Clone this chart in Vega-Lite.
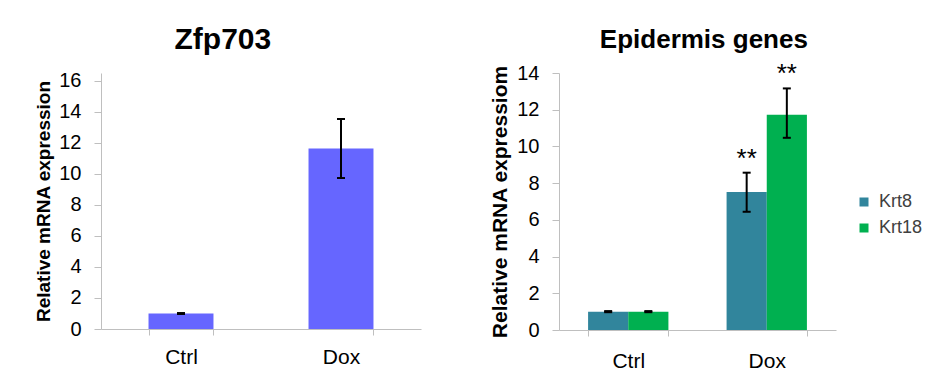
{
  "$schema": "https://vega.github.io/schema/vega-lite/v6.json",
  "padding": {"left": 34, "top": 24, "right": 0, "bottom": 0},
  "spacing": 68,
  "config": {
    "font": "Liberation Sans",
    "view": {"stroke": null},
    "axis": {"domainColor": "#BFBFBF", "tickColor": "#BFBFBF", "grid": false, "labelColor": "#000000", "titleColor": "#000000", "labelFontSize": 20, "domainWidth": 1, "tickWidth": 1, "labelFont": "Liberation Sans", "titleFont": "Liberation Sans", "labelOverlap": false},
    "title": {"fontWeight": "bold", "color": "#000000", "anchor": "middle", "frame": "bounds", "font": "Liberation Sans"}
  },
  "datasets": {
    "zfp": [
      {"cond": "Ctrl", "value": 1.0, "lo": 0.97, "hi": 1.03},
      {"cond": "Dox", "value": 11.65, "lo": 9.74, "hi": 13.55}
    ],
    "epi": [
      {"cond": "Ctrl", "gene": "Krt8", "value": 1.0, "lo": 0.97, "hi": 1.03, "sig": ""},
      {"cond": "Ctrl", "gene": "Krt18", "value": 1.0, "lo": 0.97, "hi": 1.03, "sig": ""},
      {"cond": "Dox", "gene": "Krt8", "value": 7.52, "lo": 6.44, "hi": 8.57, "sig": "**"},
      {"cond": "Dox", "gene": "Krt18", "value": 11.73, "lo": 10.47, "hi": 13.16, "sig": "**"}
    ]
  },
  "hconcat": [
    {
      "width": 320,
      "height": 256,
      "title": {"text": "Zfp703", "fontSize": 30, "offset": 16, "dx": -5},
      "data": {"name": "zfp"},
      "encoding": {
        "x": {"field": "cond", "type": "nominal", "sort": ["Ctrl", "Dox"],
          "scale": {"paddingInner": 0.594, "paddingOuter": 0.297},
          "axis": {"title": null, "labelAngle": 0, "labelFontSize": 21, "tickBand": "extent", "tickSize": 6, "labelPadding": 11}}
      },
      "layer": [
        {
          "mark": {"type": "bar", "color": "#6666FF"},
          "encoding": {
            "y": {"field": "value", "type": "quantitative", "title": "Relative mRNA expression",
              "scale": {"domain": [0, 16.516], "nice": false},
              "axis": {"titleFontSize": 19, "titleFontWeight": "bold", "values": [0, 2, 4, 6, 8, 10, 12, 14, 16], "tickSize": 7, "labelPadding": 13, "titlePadding": 5}}
          }
        },
        {
          "mark": {"type": "rule", "color": "#000000", "strokeWidth": 2},
          "encoding": {
            "y": {"field": "lo", "type": "quantitative", "title": "Relative mRNA expression",
              "axis": {"titleFontSize": 19, "titleFontWeight": "bold", "values": [0, 2, 4, 6, 8, 10, 12, 14, 16], "tickSize": 7, "labelPadding": 13, "titlePadding": 5}},
            "y2": {"field": "hi"}
          }
        },
        {
          "mark": {"type": "tick", "color": "#000000", "thickness": 2, "size": 8, "opacity": 1},
          "encoding": {"y": {"field": "lo", "type": "quantitative", "title": "Relative mRNA expression",
              "axis": {"titleFontSize": 19, "titleFontWeight": "bold", "values": [0, 2, 4, 6, 8, 10, 12, 14, 16], "tickSize": 7, "labelPadding": 13, "titlePadding": 5}}}
        },
        {
          "mark": {"type": "tick", "color": "#000000", "thickness": 2, "size": 8, "opacity": 1},
          "encoding": {"y": {"field": "hi", "type": "quantitative", "title": "Relative mRNA expression",
              "axis": {"titleFontSize": 19, "titleFontWeight": "bold", "values": [0, 2, 4, 6, 8, 10, 12, 14, 16], "tickSize": 7, "labelPadding": 13, "titlePadding": 5}}}
        }
      ]
    },
    {
      "width": 277,
      "height": 257,
      "title": {"text": "Epidermis genes", "fontSize": 26, "offset": 8, "dx": 41},
      "data": {"name": "epi"},
      "encoding": {
        "x": {"field": "cond", "type": "nominal", "sort": ["Ctrl", "Dox"],
          "scale": {"paddingInner": 0.42, "paddingOuter": 0.21},
          "axis": {"title": null, "labelAngle": 0, "labelFontSize": 21, "tickBand": "extent", "tickSize": 6, "labelPadding": 14}},
        "xOffset": {"field": "gene", "type": "nominal", "sort": ["Krt8", "Krt18"], "scale": {"paddingInner": 0, "paddingOuter": 0}}
      },
      "layer": [
        {
          "mark": {"type": "bar"},
          "encoding": {
            "y": {"field": "value", "type": "quantitative", "title": "Relative mRNA expressiom",
              "scale": {"domain": [0, 14], "nice": false},
              "axis": {"titleFontSize": 21, "titleFontWeight": "bold", "values": [0, 2, 4, 6, 8, 10, 12, 14], "tickSize": 7, "labelPadding": 13, "titlePadding": 6}},
            "color": {"field": "gene", "type": "nominal", "sort": ["Krt8", "Krt18"],
              "scale": {"domain": ["Krt8", "Krt18"], "range": ["#31859C", "#00B050"]},
              "legend": {"title": null, "orient": "none", "legendX": 754, "legendY": 120, "symbolType": "square", "symbolSize": 81, "symbolStrokeWidth": 0, "symbolOpacity": 1, "labelFontSize": 18, "labelColor": "#404040", "rowPadding": 8, "labelOffset": 6, "padding": 0, "labelFont": "Liberation Sans"}}
          }
        },
        {
          "mark": {"type": "rule", "color": "#000000", "strokeWidth": 2},
          "encoding": {
            "y": {"field": "lo", "type": "quantitative", "title": "Relative mRNA expressiom",
              "axis": {"titleFontSize": 21, "titleFontWeight": "bold", "values": [0, 2, 4, 6, 8, 10, 12, 14], "tickSize": 7, "labelPadding": 13, "titlePadding": 6}},
            "y2": {"field": "hi"}
          }
        },
        {
          "mark": {"type": "tick", "color": "#000000", "thickness": 2, "size": 8, "opacity": 1},
          "encoding": {"y": {"field": "lo", "type": "quantitative", "title": "Relative mRNA expressiom",
              "axis": {"titleFontSize": 21, "titleFontWeight": "bold", "values": [0, 2, 4, 6, 8, 10, 12, 14], "tickSize": 7, "labelPadding": 13, "titlePadding": 6}}}
        },
        {
          "mark": {"type": "tick", "color": "#000000", "thickness": 2, "size": 8, "opacity": 1},
          "encoding": {"y": {"field": "hi", "type": "quantitative", "title": "Relative mRNA expressiom",
              "axis": {"titleFontSize": 21, "titleFontWeight": "bold", "values": [0, 2, 4, 6, 8, 10, 12, 14], "tickSize": 7, "labelPadding": 13, "titlePadding": 6}}}
        },
        {
          "mark": {"type": "text", "fontSize": 26, "dy": -6, "baseline": "alphabetic", "color": "#000000", "font": "Liberation Sans"},
          "encoding": {
            "y": {"field": "hi", "type": "quantitative", "title": "Relative mRNA expressiom",
              "axis": {"titleFontSize": 21, "titleFontWeight": "bold", "values": [0, 2, 4, 6, 8, 10, 12, 14], "tickSize": 7, "labelPadding": 13, "titlePadding": 6}},
            "text": {"field": "sig"}
          }
        }
      ]
    }
  ]
}
